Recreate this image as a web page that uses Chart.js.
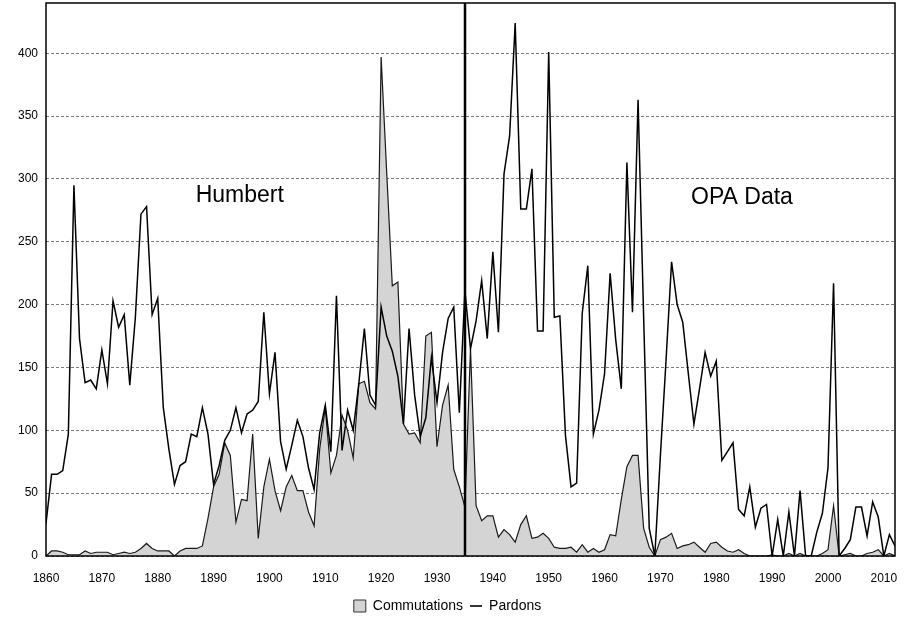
<!DOCTYPE html>
<html><head><meta charset="utf-8">
<script src="https://cdn.jsdelivr.net/npm/chart.js@4/dist/chart.umd.min.js"></script>
<style>html,body{margin:0;padding:0;background:#fff;}#wrap{width:907px;height:624px;}</style>
</head><body><div id="wrap"><canvas id="c" width="907" height="624"></canvas></div>
<script>
const firstYear = 1860;
const lastYear = 2012;
const pardons = [
  26, 65, 65, 68, 97, 295, 173, 138, 140, 133,       // 1860s
  164, 137, 203, 182, 192, 136, 190, 272, 278, 192,  // 1870s
  205, 118, 85, 57, 72, 75, 97, 95, 118, 97,         // 1880s
  57, 72, 92, 100, 118, 98, 113, 116, 123, 194,      // 1890s
  129, 162, 91, 69, 88, 108, 95, 70, 53, 98,         // 1900s
  120, 83, 207, 84, 116, 100, 137, 181, 128, 120,    // 1910s
  198, 175, 163, 143, 105, 181, 128, 95, 110, 158,   // 1920s
  122, 162, 189, 198, 114, 211, 165, 187, 219, 173,  // 1930s
  242, 178, 304, 334, 424, 276, 276, 308, 179, 179,  // 1940s
  401, 190, 191, 96, 55, 58, 193, 231, 97, 116,      // 1950s
  145, 225, 172, 133, 313, 194, 363, 190, 22, 0,     // 1960s
  80, 155, 234, 200, 186, 145, 105, 133, 162, 143,   // 1970s
  155, 76, 83, 90, 37, 32, 55, 23, 38, 41,           // 1980s
  0, 29, 0, 35, 0, 52, 0, 0, 19, 34,                 // 1990s
  70, 217, 0, 6, 13, 39, 39, 16, 43, 31,             // 2000s
  0, 17, 8                                           // 2010-2012
];
const commutations = [
  0, 4, 4, 3, 1, 1, 1, 4, 2, 3,                      // 1860s
  3, 3, 1, 2, 3, 2, 3, 6, 10, 6,                     // 1870s
  4, 4, 4, 0, 4, 6, 6, 6, 8, 30,                     // 1880s
  55, 65, 90, 80, 27, 45, 44, 97, 14, 55,            // 1890s
  77, 52, 36, 55, 64, 52, 52, 35, 24, 85,            // 1900s
  118, 66, 80, 112, 100, 78, 137, 139, 122, 117,     // 1910s
  397, 305, 215, 218, 105, 97, 98, 90, 175, 178,     // 1920s
  87, 120, 136, 69, 55, 39, 165, 40, 28, 32,         // 1930s
  32, 15, 21, 17, 11, 25, 32, 14, 15, 18,            // 1940s
  14, 7, 6, 6, 7, 3, 9, 3, 6, 3,                     // 1950s
  5, 17, 16, 45, 71, 80, 80, 22, 7, 0,               // 1960s
  13, 15, 18, 6, 8, 9, 11, 7, 3, 10,                 // 1970s
  11, 7, 4, 3, 5, 2, 0, 0, 0, 0,                     // 1980s
  1, 0, 0, 2, 0, 2, 0, 0, 0, 2,                      // 1990s
  5, 40, 0, 1, 2, 0, 0, 2, 3, 5,                     // 2000s
  0, 2, 0                                            // 2010-2012
];
const xTickYears = [1860, 1870, 1880, 1890, 1900, 1910, 1920, 1930, 1940, 1950, 1960, 1970, 1980, 1990, 2000, 2010];
const yTickValues = [0, 50, 100, 150, 200, 250, 300, 350, 400];
const dividerYear = 1935;
const periodLabels = ['Humbert', 'OPA Data'];
const periodLabelYears = [1894.7, 1984.6];
const periodLabelValues = [287, 285];
const yMax = 440;

const years = [];
for (let yr = firstYear; yr <= lastYear; yr++) years.push(yr);
const toPoints = arr => years.map((yr, i) => ({x: yr, y: arr[i]}));

const FONT = '"Liberation Sans", Arial, Helvetica, sans-serif';

const overlay = {
  id: 'overlay',
  afterDatasetsDraw(chart) {
    const {ctx, chartArea: a, scales: {x, y}} = chart;
    ctx.save();
    const px = Math.round(x.getPixelForValue(dividerYear));
    ctx.strokeStyle = '#000';
    ctx.lineWidth = 2.5;
    ctx.beginPath(); ctx.moveTo(px, a.top); ctx.lineTo(px, a.bottom); ctx.stroke();
    ctx.lineWidth = 1.5;
    ctx.strokeRect(a.left, a.top, a.right - a.left, a.bottom - a.top);
    ctx.font = '23px ' + FONT;
    ctx.fillStyle = '#000';
    ctx.textAlign = 'center';
    ctx.textBaseline = 'middle';
    periodLabels.forEach((t, i) => {
      ctx.fillText(t, x.getPixelForValue(periodLabelYears[i]), y.getPixelForValue(periodLabelValues[i]));
    });
    ctx.restore();
  }
};

new Chart(document.getElementById('c'), {
  type: 'line',
  data: {
    datasets: [
      {
        label: 'Commutations',
        data: toPoints(commutations),
        fill: 'origin',
        backgroundColor: '#d4d4d4',
        borderColor: '#1a1a1a',
        borderWidth: 1.2,
        order: 2
      },
      {
        label: 'Pardons',
        data: toPoints(pardons),
        fill: false,
        borderColor: '#000',
        borderWidth: 1.5,
        order: 1
      }
    ]
  },
  options: {
    responsive: false,
    animation: false,
    layout: {padding: {top: 3, right: 12, left: 0, bottom: 1}},
    elements: {point: {radius: 0}, line: {tension: 0}},
    plugins: {
      tooltip: {enabled: false},
      legend: {
        position: 'bottom',
        labels: {
          color: '#000',
          font: {family: FONT, size: 14},
          usePointStyle: true,
          boxHeight: 12,
          pointStyleWidth: 12,
          padding: 7,
          sort: (a, b) => a.datasetIndex - b.datasetIndex,
          generateLabels(chart) {
            return chart.data.datasets.map((ds, i) => ({
              text: ds.label,
              datasetIndex: i,
              fillStyle: i === 0 ? '#d4d4d4' : '#000',
              strokeStyle: i === 0 ? '#333' : '#000',
              lineWidth: i === 0 ? 1 : 1.6,
              pointStyle: i === 0 ? 'rect' : 'line',
              fontColor: '#000',
              hidden: false
            }));
          }
        }
      }
    },
    scales: {
      x: {
        type: 'linear',
        min: firstYear,
        max: lastYear,
        grid: {display: false, drawTicks: false},
        border: {display: false},
        ticks: {
          padding: 15,
          color: '#000',
          autoSkip: false,
          maxRotation: 0,
          font: {family: FONT, size: 12},
          callback: v => String(v)
        },
        afterBuildTicks: s => { s.ticks = xTickYears.map(v => ({value: v})); },
        afterFit: s => { s.height = 36; s.paddingLeft = 0; s.paddingRight = 0; }
      },
      y: {
        min: 0,
        max: yMax,
        grid: {color: '#7a7a7a', lineWidth: 1, drawTicks: false},
        border: {display: false, dash: [3, 2]},
        ticks: {
          padding: 8,
          color: '#000',
          font: {family: FONT, size: 12},
          callback: v => String(v)
        },
        afterBuildTicks: s => { s.ticks = yTickValues.map(v => ({value: v})); },
        afterFit: s => { s.width = 46; s.paddingTop = 0; s.paddingBottom = 0; }
      }
    }
  },
  plugins: [overlay]
});
</script>
</body></html>
